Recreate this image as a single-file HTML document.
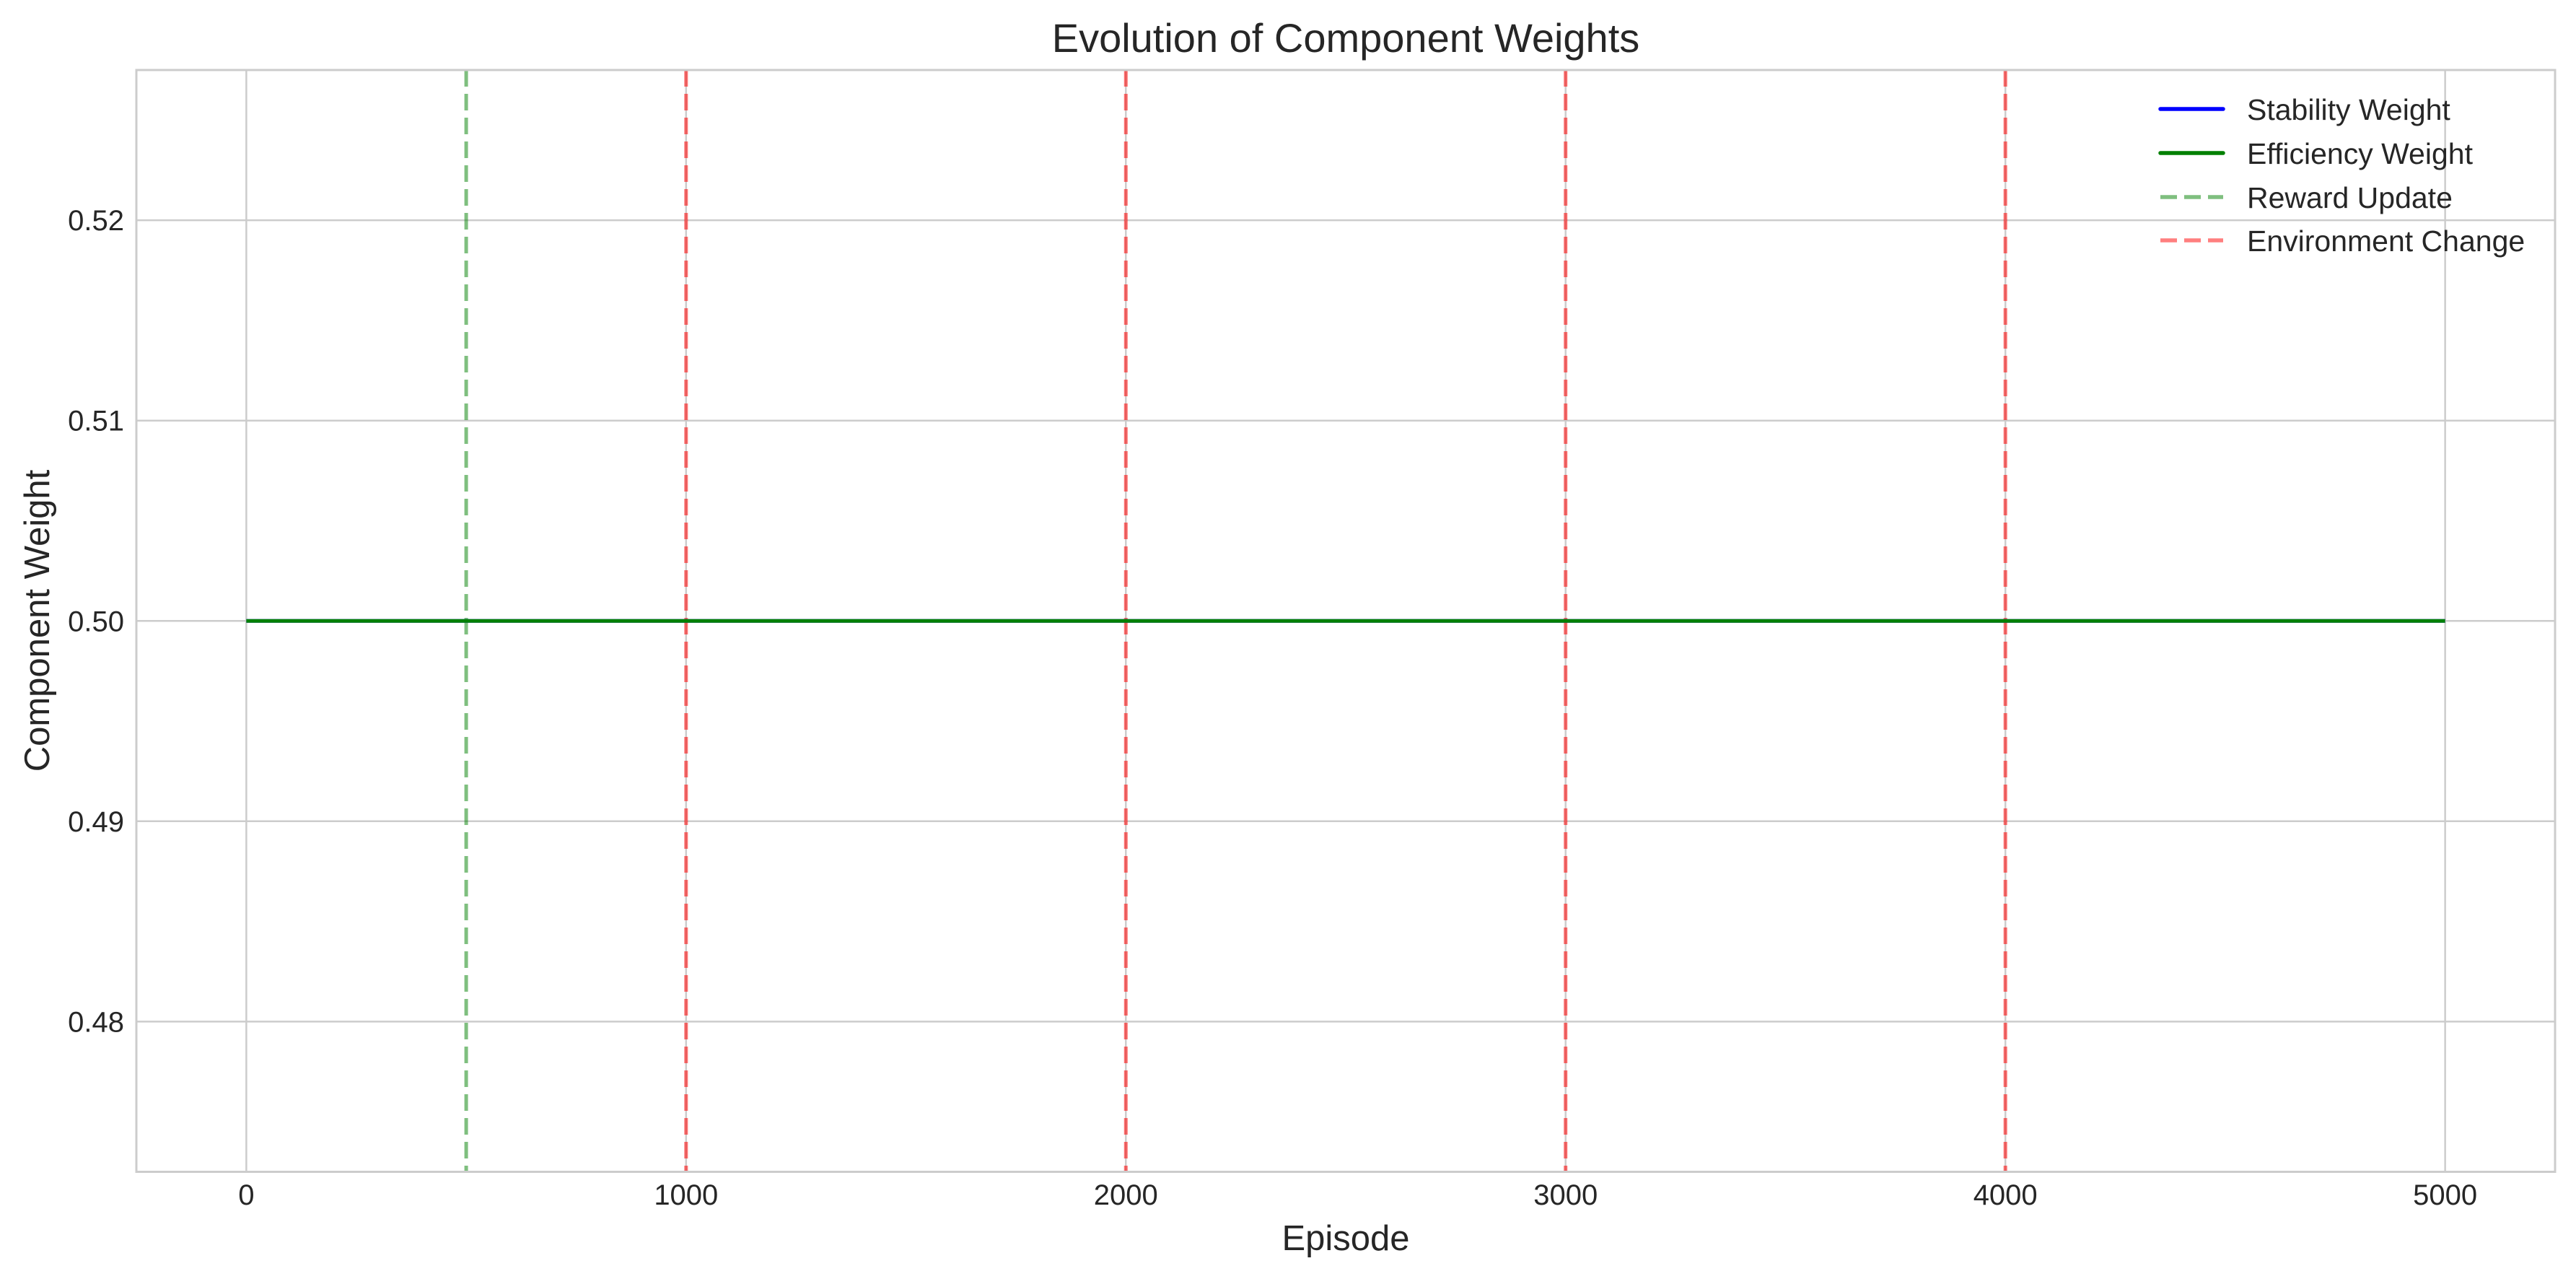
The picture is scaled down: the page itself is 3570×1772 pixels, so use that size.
<!DOCTYPE html>
<html><head><meta charset="utf-8"><style>
html,body{margin:0;padding:0;background:#fff;}
svg{display:block;font-family:"Liberation Sans",Arial,sans-serif;}
</style></head><body>
<svg id="chart" width="3570" height="1772" viewBox="0 0 3570 1772" xmlns="http://www.w3.org/2000/svg">
<rect width="3570" height="1772" fill="#fff"/>
<g id="grid"></g>
<g id="marks"></g>
<rect x="189" y="97" width="3352" height="1526.5" fill="none" stroke="#cccccc" stroke-width="3"/>
<g id="ticks"></g>
<text x="1865" y="72" font-size="56" fill="#262626" text-anchor="middle">Evolution of Component Weights</text>
<text x="1865" y="1732" font-size="49" fill="#262626" text-anchor="middle">Episode</text>
<text transform="translate(68,860) rotate(-90)" font-size="49" fill="#262626" text-anchor="middle">Component Weight</text>
<g id="legend"></g>
</svg>
<script>
const xTicks = [0, 1000, 2000, 3000, 4000, 5000];
const yTicks = [0.48, 0.49, 0.50, 0.51, 0.52];
const yTickLabels = ["0.48", "0.49", "0.50", "0.51", "0.52"];
const episodes = [0, 5000];
const stabilityWeight = [0.5, 0.5];
const efficiencyWeight = [0.5, 0.5];
const rewardUpdates = [500];
const environmentChanges = [1000, 2000, 3000, 4000];
const legendLabels = ["Stability Weight", "Efficiency Weight", "Reward Update", "Environment Change"];

const X0 = 189, X1 = 3541, Y0 = 97, Y1 = 1623.5;
const xMin = -250, xMax = 5250, yMin = 0.4725, yMax = 0.5275;
const sx = v => X0 + (v - xMin) / (xMax - xMin) * (X1 - X0);
const sy = v => Y1 - (v - yMin) / (yMax - yMin) * (Y1 - Y0);
const NS = "http://www.w3.org/2000/svg";
function mk(tag, attrs, parent) {
  const e = document.createElementNS(NS, tag);
  for (const k in attrs) e.setAttribute(k, attrs[k]);
  parent.appendChild(e);
  return e;
}
const grid = document.getElementById('grid');
const marks = document.getElementById('marks');
const ticks = document.getElementById('ticks');
const legend = document.getElementById('legend');

xTicks.forEach(t => {
  const l = mk('line', {x1: sx(t), x2: sx(t), y1: Y0, y2: Y1, stroke: '#cccccc', 'stroke-width': 2.5}, grid);
  
  
  const tx = mk('text', {x: sx(t), y: 1669, 'font-size': 40, fill: '#262626', 'text-anchor': 'middle'}, ticks);
  tx.textContent = String(t);
  
  
});
yTicks.forEach((t, i) => {
  const l = mk('line', {x1: X0, x2: X1, y1: sy(t), y2: sy(t), stroke: '#cccccc', 'stroke-width': 2.5}, grid);
  
  
  const tx = mk('text', {x: 172, y: sy(t) + 14, 'font-size': 40, fill: '#262626', 'text-anchor': 'end'}, ticks);
  tx.textContent = yTickLabels[i];
  
  
});

rewardUpdates.forEach(v => {
  const l = mk('line', {x1: sx(v), x2: sx(v), y1: Y0, y2: Y1, stroke: '#008000', 'stroke-opacity': 0.5, 'stroke-width': 5, 'stroke-dasharray': '23 10'}, marks);
  
  
});
environmentChanges.forEach(v => {
  const l = mk('line', {x1: sx(v), x2: sx(v), y1: Y0, y2: Y1, stroke: '#ff0000', 'stroke-opacity': 0.55, 'stroke-width': 5, 'stroke-dasharray': '23 10'}, marks);
  
  
});
function series(vals, color, name) {
  const pts = episodes.map((e, i) => sx(e) + ',' + sy(vals[i])).join(' ');
  const p = mk('polyline', {points: pts, fill: 'none', stroke: color, 'stroke-width': 5}, marks);
  
  
}
series(stabilityWeight, '#0000ff', 'stability-weight-line');
series(efficiencyWeight, '#008000', 'efficiency-weight-line');

const legStyles = [
  {stroke: '#0000ff', op: 1, dash: null},
  {stroke: '#008000', op: 1, dash: null},
  {stroke: '#008000', op: 0.5, dash: '23 10'},
  {stroke: '#ff0000', op: 0.5, dash: '23 10'}
];
const legY = [151, 212, 273, 333];
legendLabels.forEach((lab, i) => {
  const s = legStyles[i];
  const a = {x1: 2994, x2: 3081, y1: legY[i], y2: legY[i], stroke: s.stroke, 'stroke-opacity': s.op, 'stroke-width': 5.5, 'stroke-linecap': s.dash ? 'butt' : 'round'};
  if (s.dash) a['stroke-dasharray'] = s.dash;
  const l = mk('line', a, legend);
  
  
  const t = mk('text', {x: 3114, y: legY[i] + 15, 'font-size': 41, fill: '#262626'}, legend);
  t.textContent = lab;
  
  
});
</script>
</body></html>
